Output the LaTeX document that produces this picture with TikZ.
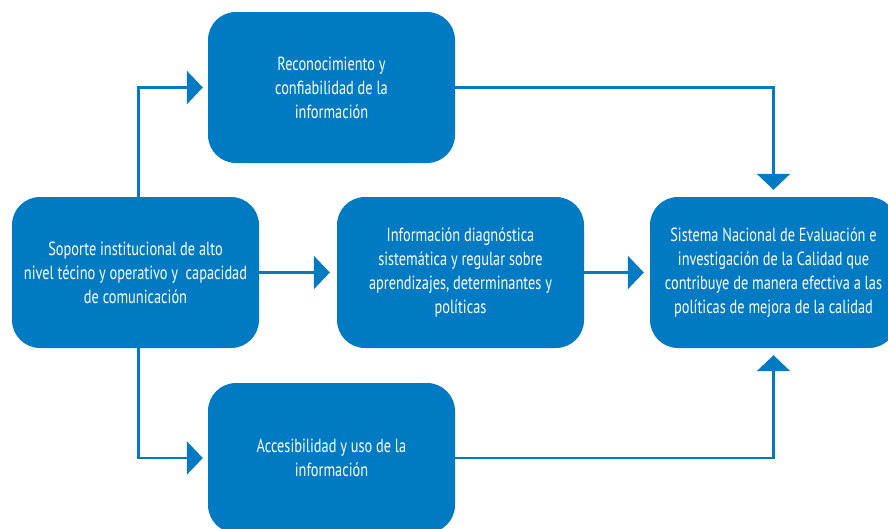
\documentclass[tikz,border=0pt]{standalone}
\usepackage{fontspec}
\setmainfont{PT Sans}[FakeStretch=0.755]
\usetikzlibrary{arrows.meta}
\definecolor{boxblue}{RGB}{0,122,194}

\begin{document}
\begin{tikzpicture}[
    x=1pt, y=-1pt,
    % Block style - rounded blue boxes
    infobox/.style={
        rectangle,
        rounded corners=28pt,
        fill=boxblue,
        minimum width=247pt,
        minimum height=151pt,
        text=white,
        align=center,
        font=\fontsize{19}{24}\selectfont
    },
    % Arrow style - thick blue with big triangle tip
    arrow/.style={
        -{Triangle[length=16pt, width=33pt]},
        draw=boxblue,
        line width=2.8pt
    }
]

\useasboundingbox (0,0) rectangle (888,528);
\clip (0,0) rectangle (888,528);

% === Left: institutional support ===
\node[infobox] (soporte) at (135.5, 272.5)
    {Soporte institucional de alto\\nivel técino y operativo y\ \ capacidad\\de comunicación};

% === Top and bottom: information use ===
\node[infobox] (reco) at (331.5, 87.5)
    {Reconocimiento y\\confiabilidad de la\\información};
\node[infobox, minimum height=150pt] (acceso) at (331.5, 458)
    {Accesibilidad y uso de la\\información};

% === Middle: diagnostic information ===
\node[infobox] (diag) at (460.5, 272.5)
    {Información diagnóstica\\sistemática y regular sobre\\aprendizajes, determinantes y\\políticas};

% === Right: national system ===
\node[infobox] (sistema) at (773.5, 272.5)
    {Sistema Nacional de Evaluación e\\investigación de la Calidad que\\contribuye de manera efectiva a las\\políticas de mejora de la calidad};

% === Arrows from the left box ===
\draw[arrow, shorten >=5pt] ([xshift=3pt]soporte.north) |- (reco.west);
\draw[arrow, shorten >=5pt] ([xshift=3pt]soporte.south) |- (acceso.west);
\draw[arrow, shorten >=7pt] (soporte.east) -- (diag.west);

% === Arrows into the right box ===
\draw[arrow, shorten >=6pt] (diag.east) -- (sistema.west);
\draw[arrow, shorten >=7pt] (reco.east) -| (sistema.north);
\draw[arrow, shorten >=7pt] (acceso.east) -| (sistema.south);

\end{tikzpicture}
\end{document}
